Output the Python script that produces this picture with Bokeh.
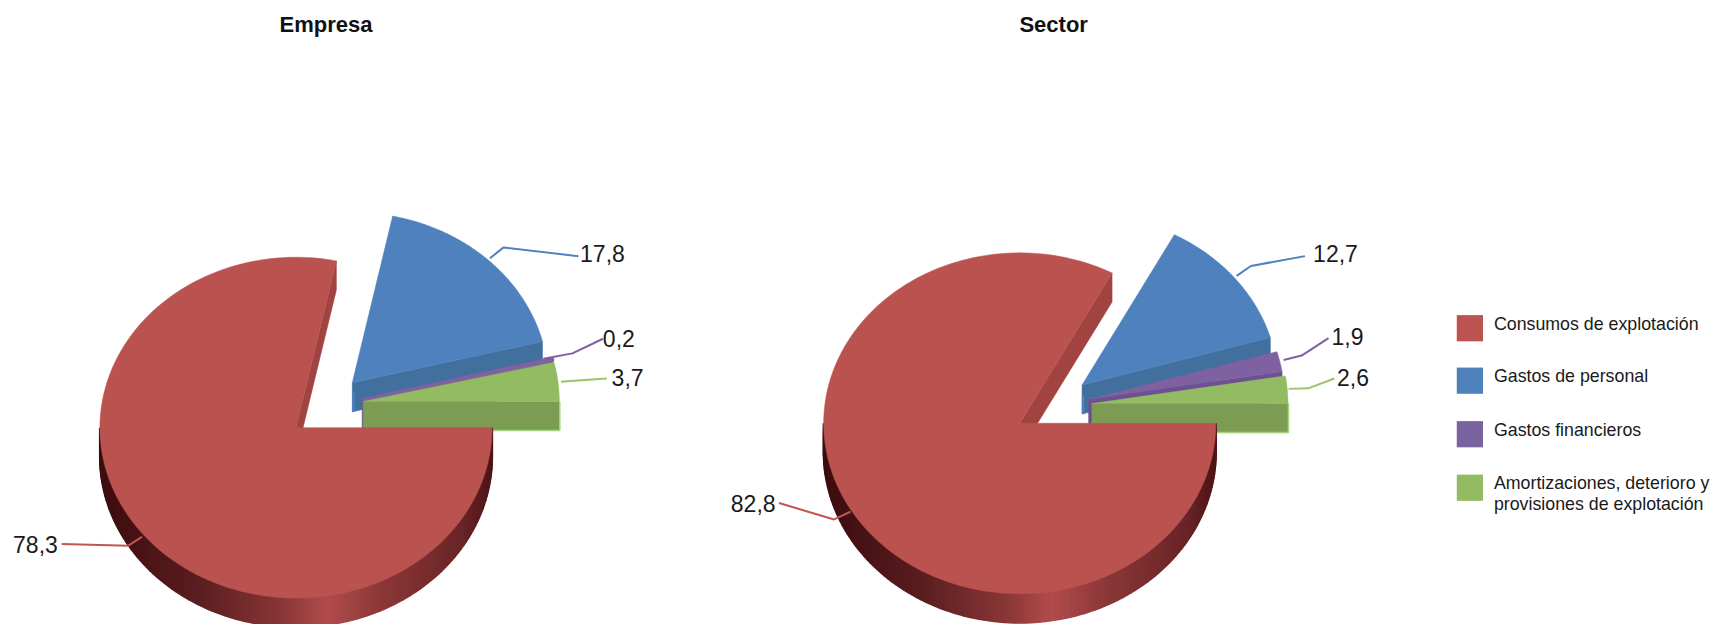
import numpy as np
from bokeh.core.properties import value
from bokeh.embed import file_html
from bokeh.models import Range1d
from bokeh.plotting import figure
from bokeh.resources import INLINE

# ---- data ----
CATEGORIES = ["Consumos de explotación", "Gastos de personal", "Gastos financieros",
              "Amortizaciones, deterioro y\nprovisiones de explotación"]
EMPRESA = [78.3, 17.8, 0.2, 3.7]
SECTOR = [82.8, 12.7, 1.9, 2.6]
EMPRESA_LABELS = ["78,3", "17,8", "0,2", "3,7"]
SECTOR_LABELS = ["82,8", "12,7", "1,9", "2,6"]

# ---- style ----
TOP = ["#BA5350", "#4E81BD", "#7F60A0", "#93BC62"]
SIDE = ["#A04341", "#41709F", "#6C5090", "#7C9C54"]
LEGEND = ["#BC5351", "#4F81BD", "#7A64A0", "#93BC62"]
LEADER = ["#BE5653", "#4F81BD", "#7F60A0", "#9BC46A"]
GRAD_POS = [0.0, 0.25, 0.47, 0.58, 0.72, 0.93, 1.0]
GRAD_RGB = [(0x3C, 0x0C, 0x0E), (0x5A, 0x1D, 0x1F), (0x8A, 0x36, 0x37), (0xB2, 0x4C, 0x4C),
            (0x8C, 0x37, 0x38), (0x68, 0x24, 0x26), (0x4E, 0x14, 0x16)]

K = 1713 / 1568  # layout below was measured on the 1568 px wide view
RX, RY, DEPTH = 179.5 * K, 156 * K, 29

LAYOUTS = [
    dict(title="Empresa", title_x=298, values=EMPRESA, labels=EMPRESA_LABELS,
         centres=[(270.5, 391), (322, 350), (331, 365.5), (332, 367)],
         label_pos=[(32, 498), (551, 232), (566, 309), (574, 345)],
         leaders=[[(129.5, 491), (117, 499), (56, 497.6)],
                  [(448, 236), (460.5, 226), (529, 234)],
                  [(497, 328), (523.5, 323), (551.5, 309.6)],
                  [(513, 349), (525, 348), (555, 346)]]),
    dict(title="Sector", title_x=964, values=SECTOR, labels=SECTOR_LABELS,
         centres=[(933, 387), (990, 352), (996, 365), (999, 369)],
         label_pos=[(689, 460), (1222, 232), (1233, 308), (1238, 345)],
         leaders=[[(778, 468), (763, 475), (712.6, 460)],
                  [(1131.5, 252), (1144.6, 243), (1194, 234)],
                  [(1174.5, 329), (1191, 325), (1215.6, 309)],
                  [(1179, 355.5), (1197, 355), (1221, 346)]]),
]

p = figure(width=1713, height=624, output_backend="svg", toolbar_location=None,
           x_range=Range1d(0, 1713), y_range=Range1d(624, 0), min_border=0,
           outline_line_color=None, background_fill_color="white")
p.xaxis.visible = False
p.yaxis.visible = False
p.grid.visible = False


def pt(c, deg):
    a = np.radians(deg)
    return c[0] + RX * np.cos(a), c[1] - RY * np.sin(a)


def grad(t):
    return "#%02x%02x%02x" % tuple(
        int(round(np.interp(t, GRAD_POS, [c[i] for c in GRAD_RGB]))) for i in range(3))


FONT = value("Liberation Sans")

for lay in LAYOUTS:
    centres = [(x * K, y * K) for x, y in lay["centres"]]
    angle = 0.0
    spans = []
    for v in lay["values"]:
        spans.append((angle, angle - v * 3.6))
        angle -= v * 3.6
    for i in [1, 2, 3, 0]:
        a0, a1 = spans[i]
        c = centres[i]
        ex, ey = pt(c, a1)
        p.patch([c[0], ex, ex, c[0]], [c[1], ey, ey + DEPTH, c[1] + DEPTH],
                fill_color=SIDE[i], line_color=SIDE[i], line_width=0.5)
        if i == 1:
            p.line([c[0] + 1, c[0] + 1], [c[1] + DEPTH * 0.35, c[1] + DEPTH],
                   line_color=TOP[1], line_width=2.5)
        if i == 3:
            p.line([c[0], ex + 0.5, ex + 0.5], [c[1] + DEPTH, ey + DEPTH, ey],
                   line_color="#A6D47C", line_width=1.5)
        if i == 0:
            steps = np.linspace(-180, 0, 121)
            xs, ys, cols = [], [], []
            for s0, s1 in zip(steps[:-1], steps[1:]):
                x0, y0 = pt(c, s0)
                x1, y1 = pt(c, s1)
                xs.append([x0, x1, x1, x0])
                ys.append([y0, y1, y1 + DEPTH, y0 + DEPTH])
                t = ((s0 + s1) / 2 + 180) / 180
                cols.append(grad(0.5 - 0.5 * np.cos(np.pi * t)))
            p.patches(xs, ys, fill_color=cols, line_color=cols, line_width=2)
        arc = np.linspace(a0, a1, 160)
        ax, ay = pt(c, arc)
        outline = 3 if abs(a0 - a1) < 2 else 0.5
        p.patch([c[0], *ax], [c[1], *ay], fill_color=TOP[i], line_color=TOP[i], line_width=outline)

    for i, pts in enumerate(lay["leaders"]):
        p.line([a * K for a, _ in pts], [b * K for _, b in pts], line_color=LEADER[i], line_width=2)
    for text, (x, y) in zip(lay["labels"], lay["label_pos"]):
        p.text([x * K], [y * K], text=[text], text_font=FONT, text_font_size="23px",
               text_color="#1a1a1a", text_align="center", text_baseline="middle")
    p.text([lay["title_x"] * K], [22 * K], text=[lay["title"]], text_font=FONT, text_font_size="22px",
           text_font_style="bold", text_color="#111111", text_align="center", text_baseline="middle")

LEG_Y = [300, 348, 397, 446]
for i, name in enumerate(CATEGORIES):
    y = LEG_Y[i] * K
    p.quad(left=[1333 * K], right=[1357 * K], top=[y - 12 * K], bottom=[y + 12 * K],
           fill_color=LEGEND[i], line_color=None)
    for j, row in enumerate(name.split("\n")):
        p.text([1367 * K], [(LEG_Y[i] - 4 + j * 19) * K], text=[row], text_font=FONT,
               text_font_size="17.8px", text_color="#1a1a1a", text_align="left", text_baseline="middle")

open("out.html", "w").write(file_html(p, INLINE))
